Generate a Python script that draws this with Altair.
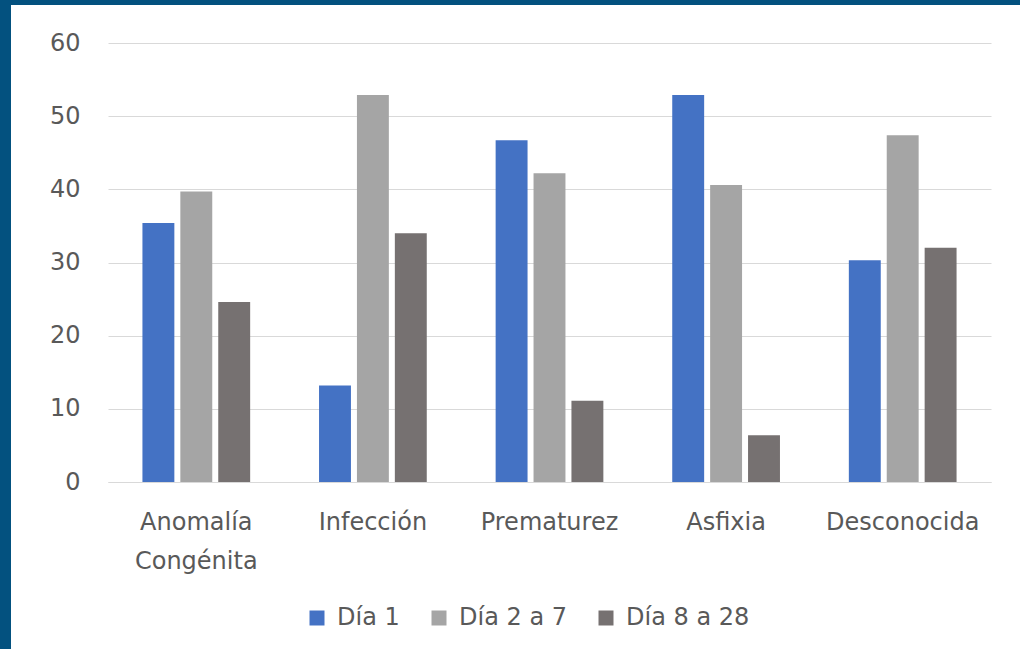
import altair as alt
import pandas as pd

# Causas de muerte neonatal por periodo de vida (%)
causas = ["Anomalía Congénita", "Infección", "Prematurez", "Asfixia", "Desconocida"]
periodos = ["Día 1", "Día 2 a 7", "Día 8 a 28"]
dia_1 = [35.4, 13.2, 46.7, 52.9, 30.3]
dia_2_7 = [39.7, 52.9, 42.2, 40.6, 47.4]
dia_8_28 = [24.6, 34.0, 11.1, 6.4, 32.0]
y_ticks = [0, 10, 20, 30, 40, 50, 60]

colores = ["#4472C4", "#A5A5A5", "#767171"]
MARCO = "#03517F"
TEXTO = "#595959"
REJILLA = "#D9D9D9"
FUENTE = "DejaVu Sans"
TAM = 24

filas = []
for serie, valores in zip(periodos, [dia_1, dia_2_7, dia_8_28]):
    for causa, v in zip(causas, valores):
        filas.append({"causa": causa, "periodo": serie, "valor": v})
df = pd.DataFrame(filas)

barras = (
    alt.Chart(df)
    .mark_bar()
    .encode(
        x=alt.X(
            "causa:N",
            sort=causas,
            scale=alt.Scale(paddingInner=0.39, paddingOuter=0.195),
            axis=alt.Axis(
                title=None,
                labelAngle=0,
                ticks=False,
                domainColor=REJILLA,
                domainWidth=1,
                labelFont=FUENTE,
                labelFontSize=TAM,
                labelColor=TEXTO,
                labelPadding=28,
                labelLineHeight=39,
                labelExpr="split(datum.label, ' ')",
            ),
        ),
        xOffset=alt.XOffset(
            "periodo:N",
            sort=periodos,
            scale=alt.Scale(paddingInner=0.158, paddingOuter=0),
        ),
        y=alt.Y(
            "valor:Q",
            scale=alt.Scale(domain=[0, 60], nice=False),
            axis=alt.Axis(
                title=None,
                values=y_ticks,
                domain=False,
                ticks=False,
                gridColor=REJILLA,
                gridWidth=1.2,
                labelFont=FUENTE,
                labelFontSize=TAM,
                labelColor=TEXTO,
                labelPadding=28,
            ),
        ),
        color=alt.Color(
            "periodo:N",
            sort=periodos,
            scale=alt.Scale(domain=periodos, range=colores),
            legend=alt.Legend(
                title=None,
                orient="none",
                direction="horizontal",
                legendX=305,
                legendY=606,
                symbolType="square",
                symbolSize=225,
                symbolStrokeWidth=0,
                labelFont=FUENTE,
                labelFontSize=TAM,
                labelColor=TEXTO,
                labelOffset=8,
                columnPadding=27,
                padding=0,
            ),
        ),
    )
    .properties(width=883, height=439)
)

# Celdas del marco: franja azul arriba y a la izquierda, el resto en blanco
uno = pd.DataFrame({"k": [0]})


def celda(ancho, alto, relleno=None):
    base = alt.Chart(uno).mark_rect(color=relleno or "white")
    if relleno:
        return base.encode(opacity=alt.value(1)).properties(
            width=ancho, height=alto, view=alt.ViewBackground(fill=relleno)
        )
    return base.encode(opacity=alt.value(0)).properties(width=ancho, height=alto)


celdas = [
    celda(11, 5, MARCO), celda(97, 5, MARCO), celda(912, 5, MARCO),
    celda(11, 38, MARCO), celda(97, 38), celda(912, 38),
    celda(11, 606, MARCO), celda(97, 606), barras,
]

chart = (
    alt.concat(*celdas, columns=3, spacing=0, bounds="flush")
    .properties(padding=0)
    .configure(background="white")
    .configure_view(strokeWidth=0)
)

chart.save("out.html", embed_options={"renderer": "svg", "actions": False})
